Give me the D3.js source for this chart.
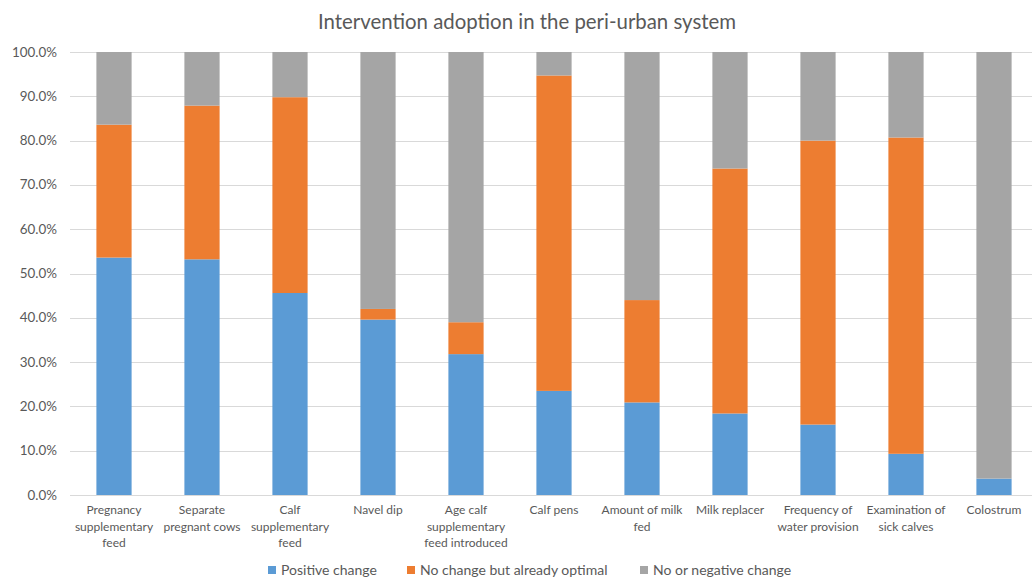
<!DOCTYPE html>
<html>
<head>
<meta charset="utf-8">
<script src="https://cdn.jsdelivr.net/npm/d3@7/dist/d3.min.js"></script>
<style>
  html, body { margin: 0; padding: 0; background: #fff; }
  svg { display: block; }
  text { font-family: Lato, "Open Sans", sans-serif; fill: #595959; }
</style>
</head>
<body>
<svg id="chart" width="1032" height="577"></svg>
<script>
const title = "Intervention adoption in the peri-urban system";
const categories = [
  "Pregnancy supplementary feed", "Separate pregnant cows", "Calf supplementary feed",
  "Navel dip", "Age calf supplementary feed introduced", "Calf pens",
  "Amount of milk fed", "Milk replacer", "Frequency of water provision",
  "Examination of sick calves", "Colostrum"
];
const categoryLines = [
  ["Pregnancy", "supplementary", "feed"],
  ["Separate", "pregnant cows"],
  ["Calf", "supplementary", "feed"],
  ["Navel dip"],
  ["Age calf", "supplementary", "feed introduced"],
  ["Calf pens"],
  ["Amount of milk", "fed"],
  ["Milk replacer"],
  ["Frequency of", "water provision"],
  ["Examination of", "sick calves"],
  ["Colostrum"]
];
const seriesNames = ["Positive change", "No change but already optimal", "No or negative change"];
const positiveChange = [53.6, 53.2, 45.6, 39.6, 31.8, 23.5, 20.9, 18.4, 15.9, 9.3, 3.7];
const noChangeOptimal = [30.0, 34.7, 44.2, 2.4, 7.2, 71.2, 23.1, 55.3, 64.1, 71.4, 0.0];
const noOrNegative = [16.4, 12.1, 10.2, 58.0, 61.0, 5.3, 56.0, 26.3, 20.0, 19.3, 96.3];
const yTicks = [0, 10, 20, 30, 40, 50, 60, 70, 80, 90, 100];
const colors = ["#5B9BD5", "#ED7D31", "#A5A5A5"];

const svg = d3.select("#chart");
const x = d3.scaleBand().domain(categories).range([70, 1038]).paddingInner(0.6).paddingOuter(0.3);
const y = d3.scaleLinear().domain([0, 100]).range([495, 52]);

// title
svg.append("text").attr("x", 527).attr("y", 29).attr("text-anchor", "middle")
  .style("font-size", "20.4px").text(title);

// gridlines
svg.append("g").selectAll("line").data(yTicks).join("line")
  .attr("x1", 70).attr("x2", 1038)
  .attr("y1", d => Math.round(y(d)) + 0.5).attr("y2", d => Math.round(y(d)) + 0.5)
  .attr("stroke", "#D9D9D9").attr("stroke-width", 1);

// y labels
svg.append("g").selectAll("text").data(yTicks).join("text")
  .attr("x", 57).attr("y", d => y(d) + 4.5).attr("text-anchor", "end")
  .style("font-size", "13.4px").text(d => d3.format(".1f")(d) + "%");

// stacked bars
const rows = categories.map((c, i) => ({ cat: c, s0: positiveChange[i], s1: noChangeOptimal[i], s2: noOrNegative[i] }));
const stack = d3.stack().keys(["s0", "s1", "s2"])(rows);
svg.append("g").selectAll("g").data(stack).join("g")
  .attr("fill", (d, i) => colors[i])
  .selectAll("rect").data(d => d).join("rect")
  .attr("x", d => x(d.data.cat))
  .attr("width", x.bandwidth())
  .attr("y", d => y(d[1]))
  .attr("height", d => y(d[0]) - y(d[1]));

// x labels
const xl = svg.append("g").selectAll("text").data(categories).join("text")
  .attr("text-anchor", "middle")
  .style("font-size", "12px");
xl.each(function(c, i) {
  const t = d3.select(this);
  categoryLines[i].forEach((ln, j) => {
    t.append("tspan").attr("x", x(c) + x.bandwidth() / 2).attr("y", 514 + j * 16.5).text(ln);
  });
});

// legend
const legendX = [268, 407, 640];
const lg = svg.append("g").selectAll("g").data(seriesNames).join("g")
  .attr("transform", (d, i) => `translate(${legendX[i]},0)`);
lg.append("rect").attr("x", 0).attr("y", 566).attr("width", 8).attr("height", 8)
  .attr("fill", (d, i) => colors[i]);
lg.append("text").attr("x", 13).attr("y", 575).style("font-size", "14px").text(d => d);
</script>
</body>
</html>
